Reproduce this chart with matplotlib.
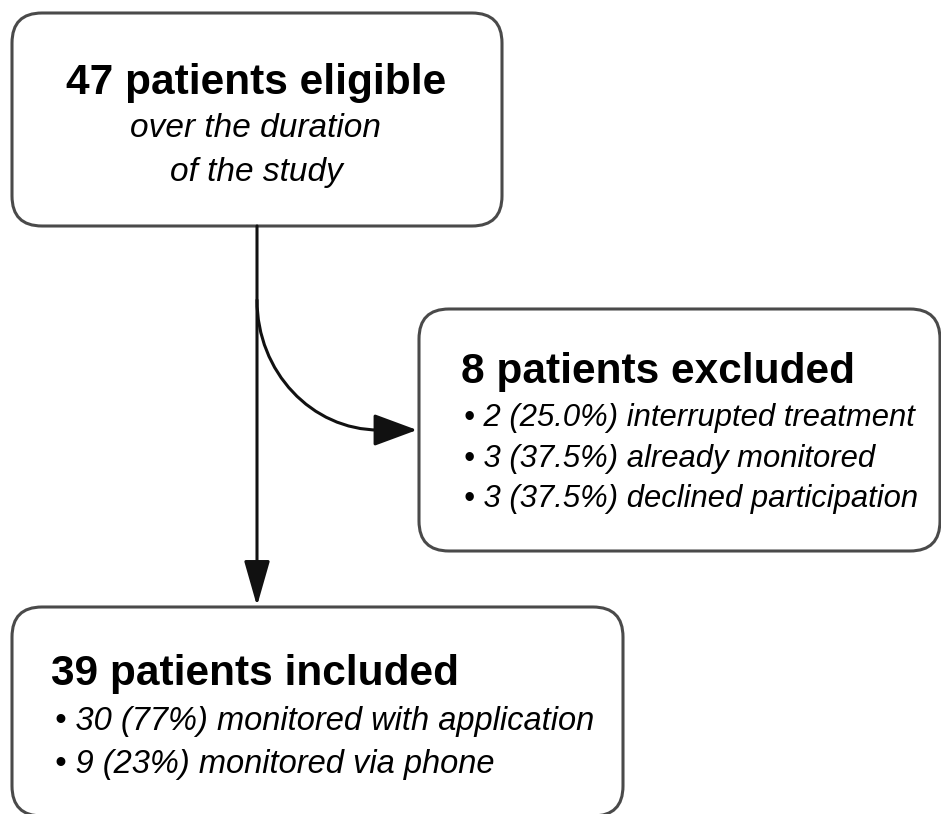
import matplotlib
matplotlib.use("Agg")
import matplotlib.pyplot as plt
from matplotlib.patches import FancyBboxPatch, FancyArrowPatch
from matplotlib.path import Path

# ---- data ----
eligible_n = 47
eligible_note = ["over the duration", "of the study"]
excluded_n = 8
excluded_counts = [2, 3, 3]
excluded_pct = ["25.0%", "37.5%", "37.5%"]
excluded_reasons = ["interrupted treatment", "already monitored", "declined participation"]
included_n = 39
included_counts = [30, 9]
included_pct = ["77%", "23%"]
included_modes = ["monitored with application", "monitored via phone"]

FONT = ["Liberation Sans", "DejaVu Sans"]
EDGE = "#4a4a4a"
INK = "#111111"

fig = plt.figure(figsize=(9.41, 8.14), dpi=100)
ax = fig.add_axes([0, 0, 1, 1])
ax.set_xlim(0, 941)
ax.set_ylim(814, 0)
ax.axis("off")


def box(x0, y0, x1, y1):
    p = FancyBboxPatch((x0, y0), x1 - x0, y1 - y0,
                       boxstyle="round,pad=0,rounding_size=30",
                       fc="white", ec=EDGE, lw=2.2, zorder=2)
    ax.add_patch(p)


box(12, 13, 502, 226)
box(419, 309, 940, 551)
box(12, 607, 623, 816)

# vertical arrow
ax.add_patch(FancyArrowPatch((257, 226), (257, 606),
                             arrowstyle="-|>,head_length=2.8,head_width=0.8",
                             mutation_scale=10, lw=2.2, color=INK,
                             shrinkA=0, shrinkB=0, zorder=3))

# curved arrow (quarter ellipse then short straight run into arrowhead)
k = 0.5523
verts = [(257, 300), (257, 300 + k * 130), (379 - k * 122, 430), (379, 430), (417, 430)]
codes = [Path.MOVETO, Path.CURVE4, Path.CURVE4, Path.CURVE4, Path.LINETO]
ax.add_patch(FancyArrowPatch(path=Path(verts, codes),
                             arrowstyle="-|>,head_length=2.7,head_width=1.0",
                             mutation_scale=10, lw=2.2, color=INK, zorder=3))

# box 1 text
ax.text(256, 94, f"{eligible_n} patients eligible", ha="center", va="baseline",
        fontsize=30.5, fontweight="bold", family=FONT, color="black", zorder=4)
for i, line in enumerate(eligible_note):
    ax.text(256, 137 + 44 * i, line, ha="center", va="baseline",
            fontsize=24, style="italic", family=FONT, color="black", zorder=4)

# box 2 text
ax.text(461, 383, f"{excluded_n} patients excluded", ha="left", va="baseline",
        fontsize=30.5, fontweight="bold", family=FONT, color="black", zorder=4)
for i, (c, p, r) in enumerate(zip(excluded_counts, excluded_pct, excluded_reasons)):
    ax.text(464, 426 + 40.5 * i, f"\u2022 {c} ({p}) {r}", ha="left", va="baseline",
            fontsize=22.3, style="italic", family=FONT, color="black", zorder=4)

# box 3 text
ax.text(51, 685, f"{included_n} patients included", ha="left", va="baseline",
        fontsize=30.5, fontweight="bold", family=FONT, color="black", zorder=4)
for i, (c, p, m) in enumerate(zip(included_counts, included_pct, included_modes)):
    ax.text(55, 730 + 43 * i, f"\u2022 {c} ({p}) {m}", ha="left", va="baseline",
            fontsize=23.5, style="italic", family=FONT, color="black", zorder=4)

fig.savefig("out.png", dpi=100, facecolor="white")
